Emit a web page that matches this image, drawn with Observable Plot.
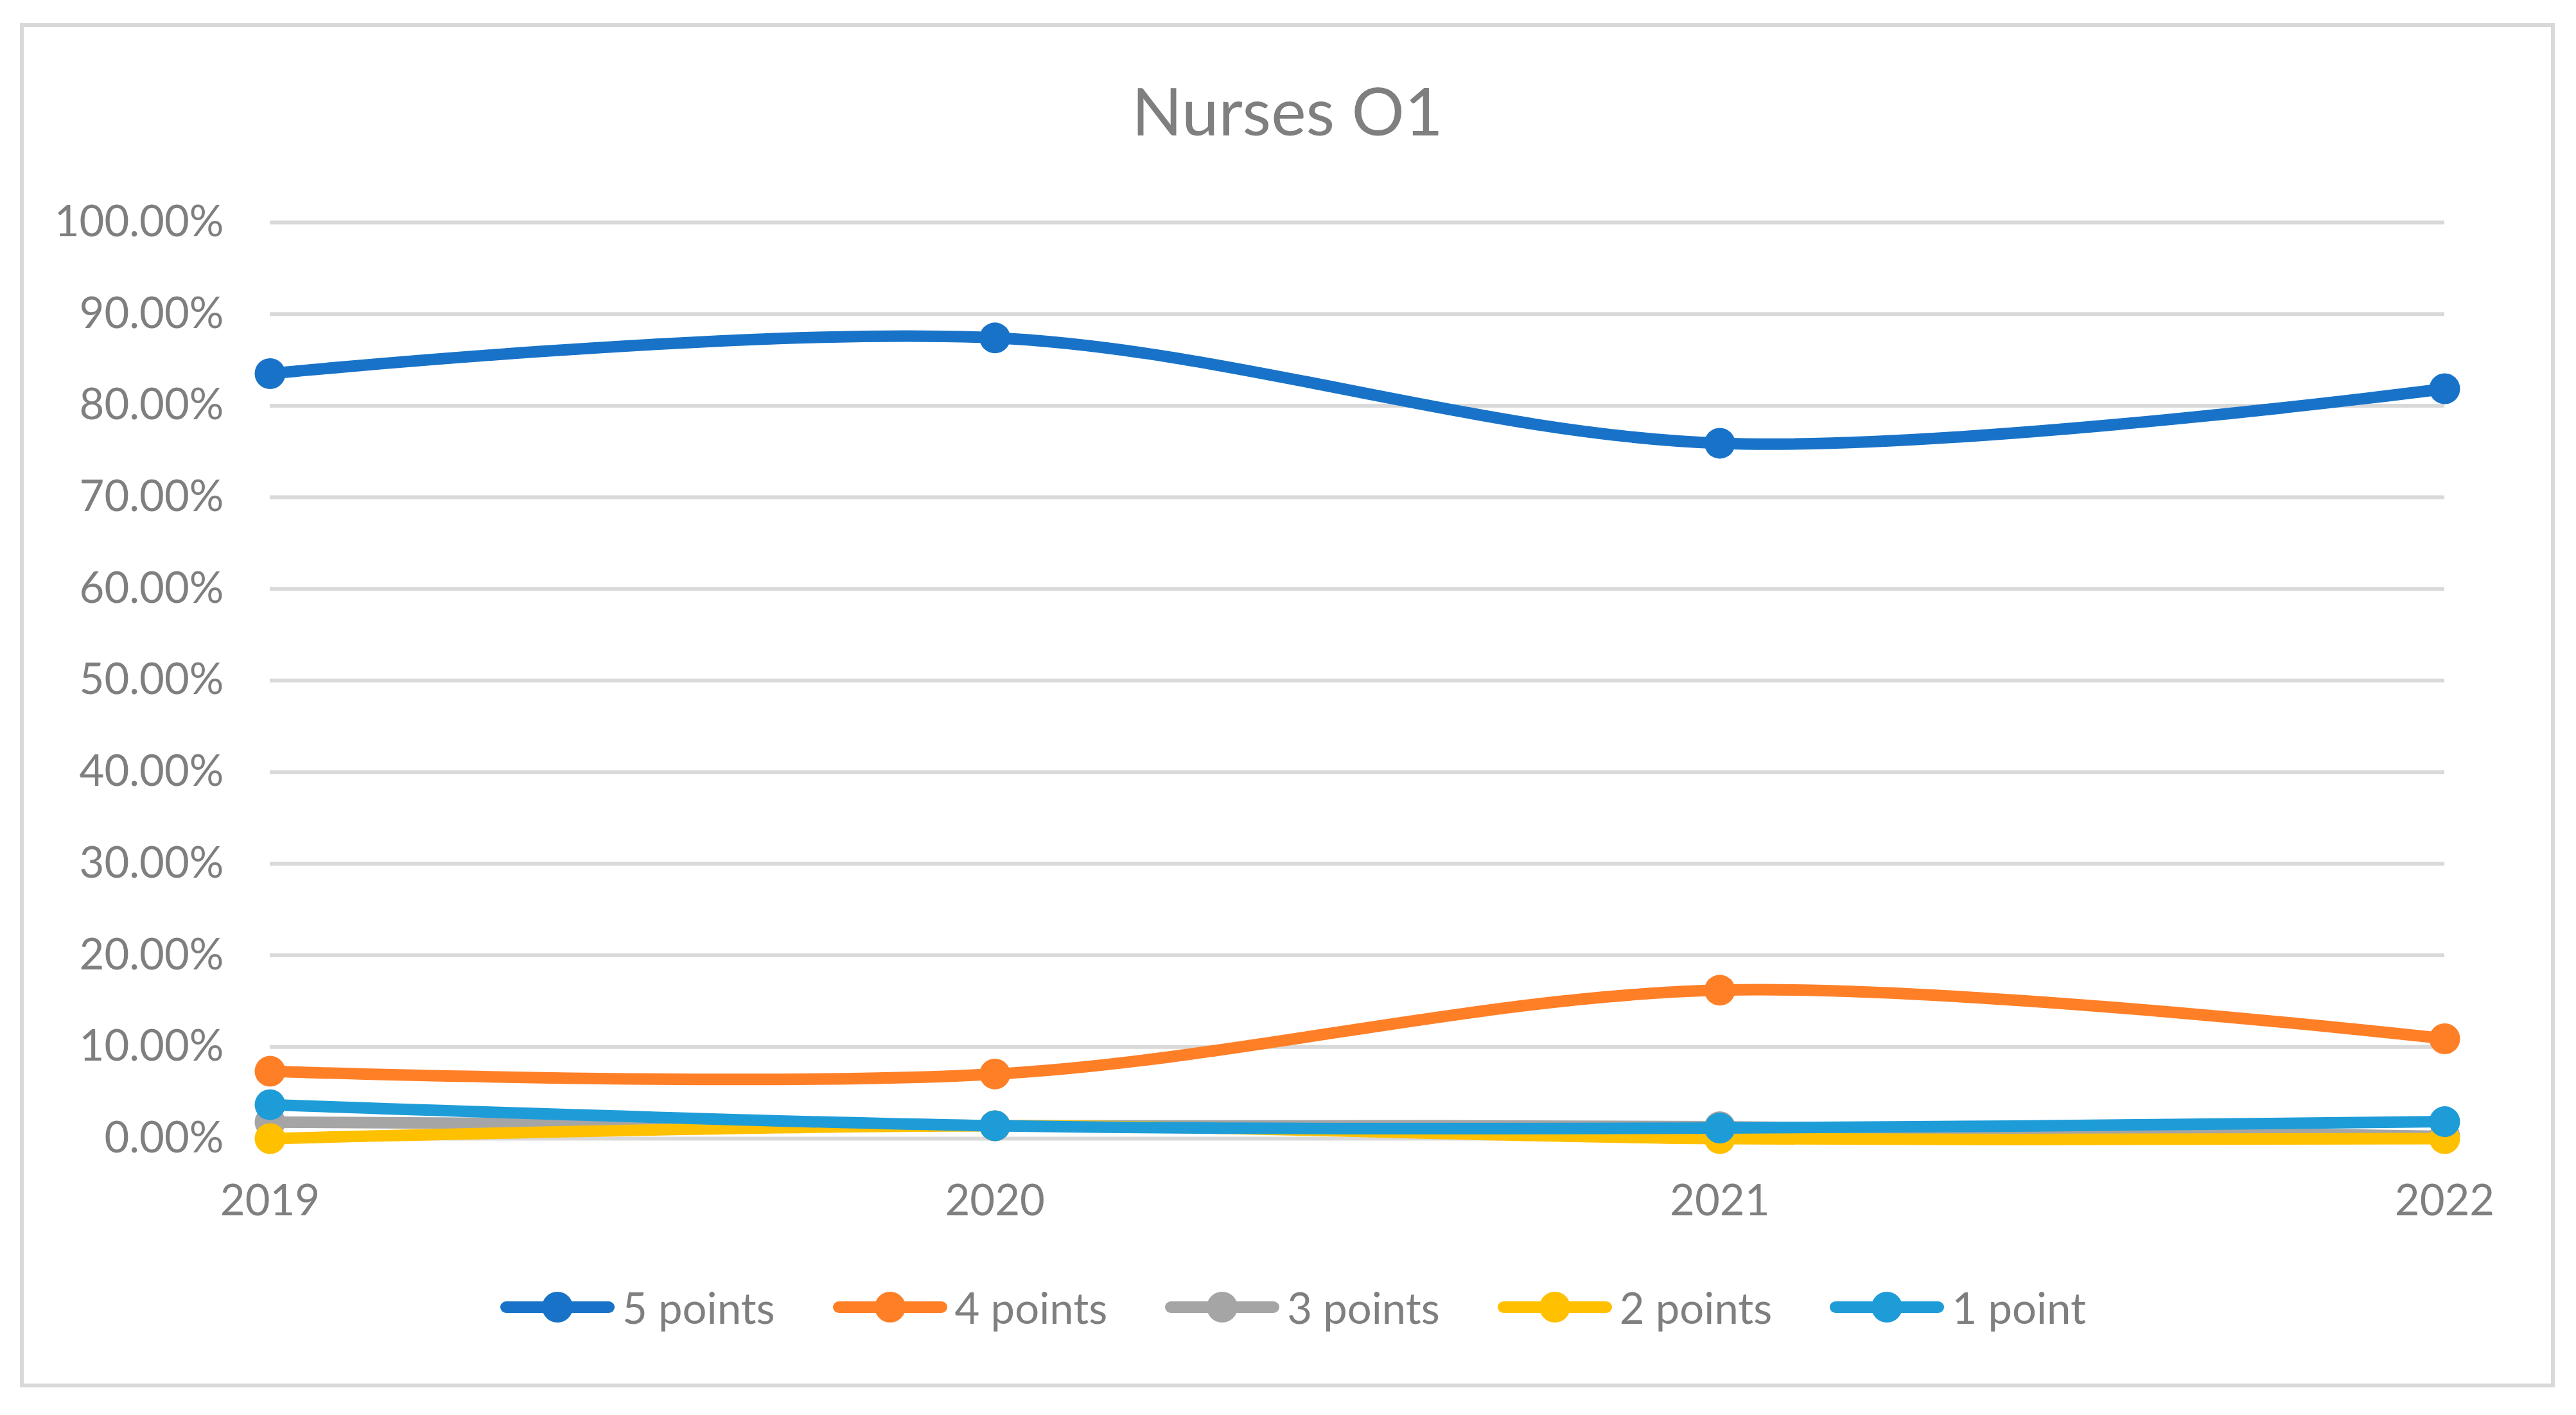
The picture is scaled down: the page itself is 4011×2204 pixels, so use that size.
<!DOCTYPE html>
<html>
<head>
<meta charset="utf-8">
<script src="https://cdn.jsdelivr.net/npm/d3@7"></script>
<script src="https://cdn.jsdelivr.net/npm/@observablehq/plot@0.6"></script>
<style>
  html, body { margin: 0; padding: 0; background: #ffffff; }
  body { width: 4011px; height: 2204px; position: relative; overflow: hidden; font-family: Lato, "Open Sans", sans-serif; color: #7f7f7f; }
  #frame { position: absolute; left: 31px; top: 36px; width: 3947px; height: 2125px; border: 6px solid #d9d9d9; box-sizing: border-box; }
  #title { position: absolute; left: 34px; width: 3941px; top: 111px; height: 120px; line-height: 120px; text-align: center; font-size: 103px; color: #7f7f7f; }
  #chart { position: absolute; left: 0; top: 280px; }
  #legend { position: absolute; left: 43px; width: 3941px; top: 1996px; height: 80px; display: flex; justify-content: center; align-items: center; gap: 90px; font-size: 67px; }
  .item { display: flex; align-items: center; height: 80px; }
  .sw { position: relative; width: 178px; height: 48px; margin-right: 12px; }
  .sw .ln { position: absolute; left: 0; right: 0; top: 15px; height: 18px; border-radius: 9px; }
  .sw .mk { position: absolute; left: 65px; top: 0; width: 48px; height: 48px; border-radius: 50%; }
  .lab { line-height: 80px; white-space: nowrap; }
</style>
</head>
<body>
<div id="frame"></div>
<div id="title">Nurses O1</div>
<div id="chart"></div>
<div id="legend"></div>
<script>
// ---- data ----
const years = [2019, 2020, 2021, 2022];
const seriesNames = ["5 points", "4 points", "3 points", "2 points", "1 point"];
const seriesColors = ["#1873c8", "#ff7f27", "#a5a5a5", "#ffc000", "#1e9cd8"];
const points5 = [0.835, 0.874, 0.759, 0.8185];
const points4 = [0.0735, 0.0705, 0.162, 0.109];
const points3 = [0.018, 0.014, 0.013, 0.0025];
const points2 = [0.0, 0.014, 0.0, 0.0];
const points1 = [0.037, 0.014, 0.0115, 0.0185];
const yTicks = [0, 0.1, 0.2, 0.3, 0.4, 0.5, 0.6, 0.7, 0.8, 0.9, 1.0];

const seriesValues = [points5, points4, points3, points2, points1];
const rows = [];
seriesNames.forEach((s, i) => {
  years.forEach((yr, j) => rows.push({series: s, year: yr, value: seriesValues[i][j]}));
});

const seriesMarks = [];
seriesNames.forEach((s, i) => {
  const d = rows.filter(r => r.series === s);
  seriesMarks.push(Plot.line(d, {x: "year", y: "value", stroke: seriesColors[i], strokeWidth: 18, curve: "cardinal"}));
  seriesMarks.push(Plot.dot(d, {x: "year", y: "value", fill: seriesColors[i], r: 24, stroke: "none"}));
});

const chart = Plot.plot({
  width: 4011,
  height: 1660,
  marginLeft: 420,
  marginRight: 205,
  marginTop: 66,
  marginBottom: 167,
  style: {fontFamily: "Lato, 'Open Sans', sans-serif", fontSize: "67px", color: "#7f7f7f", background: "transparent", overflow: "visible"},
  x: {type: "linear", domain: [years[0], years[years.length - 1]]},
  y: {domain: [0, 1]},
  marks: [
    Plot.gridY(yTicks, {stroke: "#d9d9d9", strokeOpacity: 1, strokeWidth: 6}),
    Plot.axisY(yTicks, {tickSize: 0, tickPadding: 72, tickFormat: d3.format(".2%"), label: null}),
    Plot.axisX(years, {tickSize: 0, tickPadding: 72, tickFormat: d => String(d), label: null}),
    ...seriesMarks
  ]
});
document.getElementById("chart").appendChild(chart);

// ---- legend ----
const legend = document.getElementById("legend");
seriesNames.forEach((s, i) => {
  const item = document.createElement("div");
  item.className = "item";
  const sw = document.createElement("div");
  sw.className = "sw";
  const ln = document.createElement("div"); ln.className = "ln"; ln.style.background = seriesColors[i];
  const mk = document.createElement("div"); mk.className = "mk"; mk.style.background = seriesColors[i];
  sw.appendChild(ln); sw.appendChild(mk);
  const lab = document.createElement("span"); lab.className = "lab"; lab.textContent = s;
  item.appendChild(sw); item.appendChild(lab);
  legend.appendChild(item);
});
</script>
</body>
</html>
